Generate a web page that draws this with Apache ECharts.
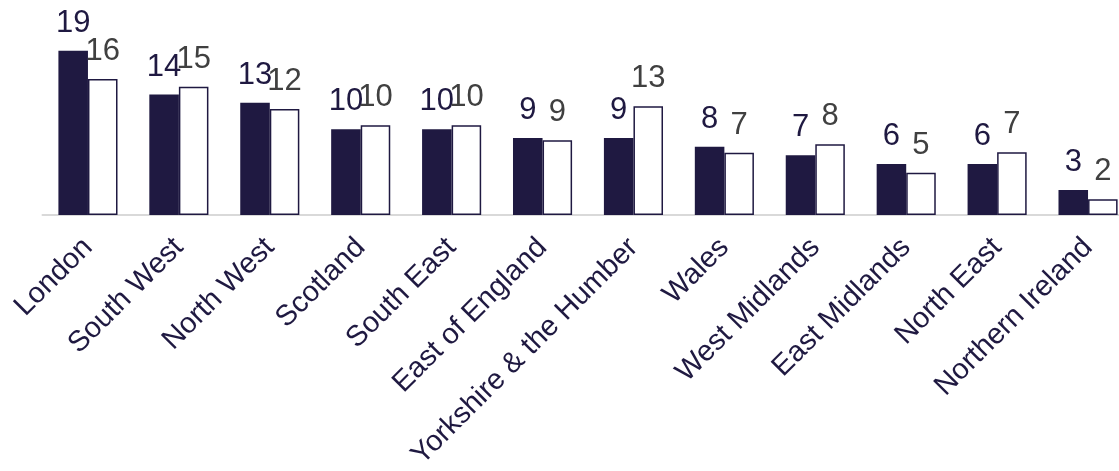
<!DOCTYPE html>
<html>
<head>
<meta charset="utf-8">
<script src="https://cdn.jsdelivr.net/npm/echarts@6/dist/echarts.min.js"></script>
<style>
html,body{margin:0;padding:0;background:#fff;}
#chart{width:1119px;height:471px;}
</style>
</head>
<body>
<div id="chart"></div>
<script>
const categories = ["London","South West","North West","Scotland","South East","East of England","Yorkshire & the Humber","Wales","West Midlands","East Midlands","North East","Northern Ireland"];
const seriesDark = [19.1, 14.0, 13.06, 9.97, 9.97, 8.95, 8.95, 7.94, 6.94, 5.93, 5.93, 2.91];
const seriesLight = [15.8, 14.9, 12.33, 10.43, 10.43, 8.69, 12.64, 7.24, 8.22, 4.92, 7.29, 1.83];

const navy = '#1f1941';
const chart = echarts.init(document.getElementById('chart'), null, {renderer:'canvas'});
const labelFmt = p => String(Math.round(p.value));
chart.setOption({
  animation: false,
  backgroundColor: '#ffffff',
  grid: {left: 42.5, top: 43, width: 1091, height: 172, containLabel: false, outerBoundsMode: 'none'},
  xAxis: {
    type: 'category',
    data: categories,
    axisLine: {show: true, lineStyle: {color: '#d9d9d9', width: 2}},
    axisTick: {show: false},
    axisLabel: {
      interval: 0, rotate: 45, margin: 28,
      fontFamily: 'Liberation Sans, Arial, sans-serif', fontSize: 29, color: navy
    }
  },
  yAxis: {
    type: 'value', min: 0, max: 20,
    show: false, splitLine: {show: false}
  },
  series: [
    {
      type: 'bar', data: seriesDark, barGap: '0%', barCategoryGap: '35%',
      itemStyle: {color: navy},
      label: {show: true, position: 'top', distance: 12, formatter: labelFmt,
        fontFamily: 'Liberation Sans, Arial, sans-serif', fontSize: 31, color: navy}
    },
    {
      type: 'bar', data: seriesLight, barGap: '0%', barCategoryGap: '35%',
      itemStyle: {color: '#ffffff', borderColor: navy, borderWidth: 1.5},
      label: {show: true, position: 'top', distance: 12, formatter: labelFmt,
        fontFamily: 'Liberation Sans, Arial, sans-serif', fontSize: 31, color: '#404040'}
    }
  ]
});
</script>
</body>
</html>
